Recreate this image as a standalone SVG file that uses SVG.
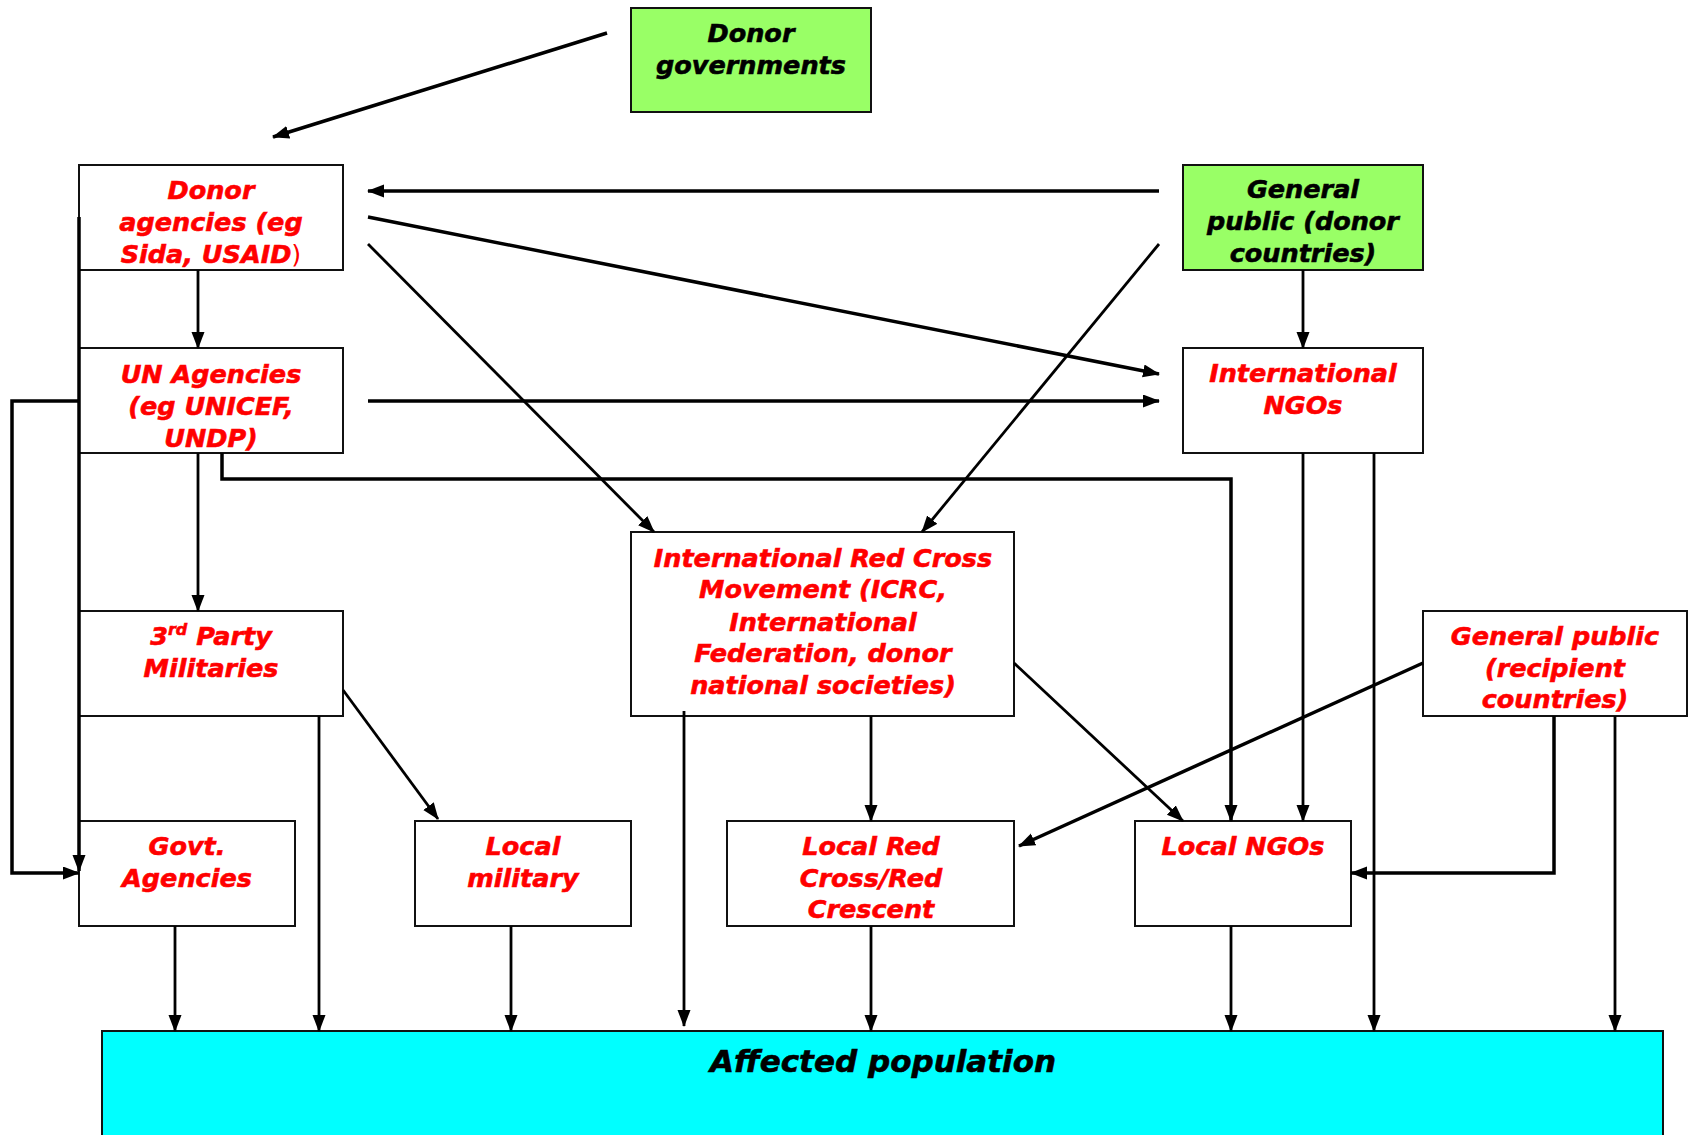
<svg xmlns="http://www.w3.org/2000/svg" width="1690" height="1135" viewBox="0 0 1690 1135">
  <style>
    .box { fill: #ffffff; stroke: #111111; stroke-width: 2; }
    .green { fill: #99ff66; }
    .cyan { fill: #00ffff; }
    .t { font-family: "DejaVu Sans", "Liberation Sans", sans-serif; font-weight: bold; font-style: italic; font-size: 25.5px; text-anchor: middle; fill: #ff0000; stroke: #ff0000; stroke-width: 0.6; }
    .k { fill: #000000; stroke: #000000; }
    .big { font-size: 31px; }
    .ln { fill: none; stroke: #000000; stroke-width: 2.8; marker-end: url(#ah); }
    .thick { stroke-width: 3.5; }
  </style>
  <defs>
    <marker id="ah" markerUnits="userSpaceOnUse" markerWidth="18" markerHeight="14" refX="16" refY="6.5" orient="auto">
      <path d="M0,0 L17,6.5 L0,13 z" fill="#000000"/>
    </marker>
  </defs>
  <rect width="1690" height="1135" fill="#ffffff"/>

  <g id="donor-governments">
    <rect class="box green" x="631" y="8" width="240" height="104"/>
    <text class="t k" x="751" y="42">Donor</text>
    <text class="t k" x="751" y="74">governments</text>
  </g>
  <g id="donor-agencies">
    <rect class="box" x="79" y="165" width="264" height="105"/>
    <text class="t" x="211" y="199">Donor</text>
    <text class="t" x="211" y="231">agencies (eg</text>
    <text class="t" x="211" y="263">Sida, USAID<tspan font-weight="normal" font-style="normal" stroke-width="0">)</tspan></text>
  </g>
  <g id="general-public-donor">
    <rect class="box green" x="1183" y="165" width="240" height="105"/>
    <text class="t k" x="1303" y="198">General</text>
    <text class="t k" x="1303" y="230">public (donor</text>
    <text class="t k" x="1303" y="262">countries)</text>
  </g>
  <g id="un-agencies">
    <rect class="box" x="79" y="348" width="264" height="105"/>
    <text class="t" x="211" y="383">UN Agencies</text>
    <text class="t" x="211" y="415">(eg UNICEF,</text>
    <text class="t" x="211" y="447">UNDP)</text>
  </g>
  <g id="international-ngos">
    <rect class="box" x="1183" y="348" width="240" height="105"/>
    <text class="t" x="1303" y="382">International</text>
    <text class="t" x="1303" y="414">NGOs</text>
  </g>
  <g id="red-cross-movement">
    <rect class="box" x="631" y="532" width="383" height="184"/>
    <text class="t" x="823" y="567">International Red Cross</text>
    <text class="t" x="823" y="598">Movement (ICRC,</text>
    <text class="t" x="823" y="631">International</text>
    <text class="t" x="823" y="662">Federation, donor</text>
    <text class="t" x="823" y="694">national societies)</text>
  </g>
  <g id="third-party-militaries">
    <rect class="box" x="79" y="611" width="264" height="105"/>
    <text class="t" x="211" y="645">3<tspan font-size="16" dy="-10">rd</tspan><tspan dy="10"> Party</tspan></text>
    <text class="t" x="211" y="677">Militaries</text>
  </g>
  <g id="general-public-recipient">
    <rect class="box" x="1423" y="611" width="264" height="105"/>
    <text class="t" x="1555" y="645">General public</text>
    <text class="t" x="1555" y="677">(recipient</text>
    <text class="t" x="1555" y="708">countries)</text>
  </g>
  <g id="govt-agencies">
    <rect class="box" x="79" y="821" width="216" height="105"/>
    <text class="t" x="187" y="855">Govt.</text>
    <text class="t" x="187" y="887">Agencies</text>
  </g>
  <g id="local-military">
    <rect class="box" x="415" y="821" width="216" height="105"/>
    <text class="t" x="523" y="855">Local</text>
    <text class="t" x="523" y="887">military</text>
  </g>
  <g id="local-red-cross">
    <rect class="box" x="727" y="821" width="287" height="105"/>
    <text class="t" x="871" y="855">Local Red</text>
    <text class="t" x="871" y="887">Cross/Red</text>
    <text class="t" x="871" y="918">Crescent</text>
  </g>
  <g id="local-ngos">
    <rect class="box" x="1135" y="821" width="216" height="105"/>
    <text class="t" x="1243" y="855">Local NGOs</text>
  </g>
  <g id="affected-population">
    <rect class="box cyan" x="102" y="1031" width="1561" height="120"/>
    <text class="t k big" x="883" y="1072">Affected population</text>
  </g>

  <g id="connectors">
    <path class="ln thick" d="M607,33 L273,137"/>
    <path class="ln thick" d="M1159,191 L368,191"/>
    <path class="ln thick" d="M368,217 L1159,374"/>
    <path class="ln" d="M368,244 L654,532"/>
    <path class="ln" d="M1159,244 L922,532"/>
    <path class="ln" d="M1303,270 L1303,348"/>
    <path class="ln" d="M198,270 L198,348"/>
    <path class="ln thick" d="M368,401 L1159,401"/>
    <path class="ln" d="M198,453 L198,611"/>
    <path class="ln thick" d="M222,453 L222,479 L1231,479 L1231,821"/>
    <path class="ln thick" d="M79,401 L12,401 L12,873 L79,873"/>
    <path class="ln thick" d="M79,217 L79,871"/>
    <path class="ln" d="M343,690 L438,819"/>
    <path class="ln" d="M319,716 L319,1031"/>
    <path class="ln" d="M175,926 L175,1031"/>
    <path class="ln" d="M511,926 L511,1031"/>
    <path class="ln" d="M684,711 L684,1026"/>
    <path class="ln" d="M871,716 L871,821"/>
    <path class="ln" d="M871,926 L871,1031"/>
    <path class="ln" d="M1014,663 L1183,821"/>
    <path class="ln thick" d="M1423,663 L1019,846"/>
    <path class="ln" d="M1303,453 L1303,821"/>
    <path class="ln" d="M1374,453 L1374,1031"/>
    <path class="ln" d="M1231,926 L1231,1031"/>
    <path class="ln thick" d="M1554,716 L1554,873 L1351,873"/>
    <path class="ln" d="M1615,716 L1615,1031"/>
  </g>
</svg>
